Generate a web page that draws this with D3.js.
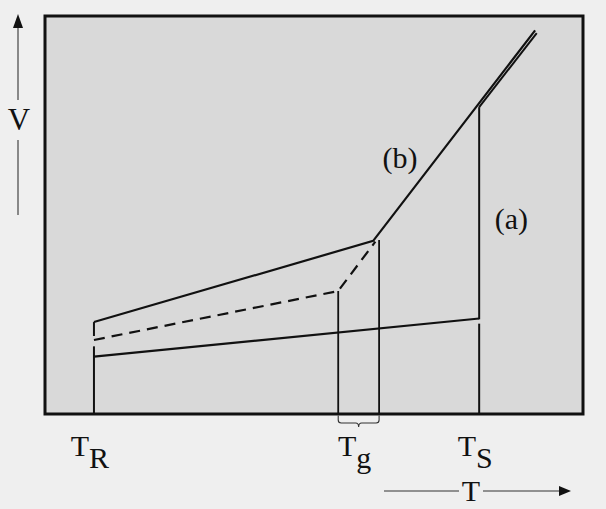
<!DOCTYPE html>
<html><head><meta charset="utf-8">
<script src="https://cdn.jsdelivr.net/npm/d3@7"></script>
<style>html,body{margin:0;padding:0;background:#efefef;} svg{display:block}</style>
</head><body>
<svg id="c" width="606" height="509"></svg>
<script>
// Data (T in arbitrary units 0-100, V in arbitrary units 0-100)
const upperT = [9.1, 61.0, 91.1];      // glass (b) solid line
const upperV = [23.1, 43.5, 96.4];
const dashT  = [9.1, 54.5, 61.4];      // dashed (slower cooling) glass line
const dashV  = [18.6, 30.9, 43.3];
const crystT = [9.1, 80.7];            // crystal line
const crystV = [14.4, 24.0];
const meltT  = [80.7, 91.4];           // liquid line (a)
const meltV  = [77.1, 95.7];
const dropT  = [80.7, 80.7];           // crystallisation drop at TS
const dropV  = [77.1, 23.8];
// vertical marker segments [T, V from, V to]
const vertT   = [9.1, 9.1, 54.5, 62.1, 80.7];
const vertV0  = [0, 19.6, 0, 0, 0];
const vertV1  = [17.0, 23.1, 30.9, 43.7, 22.7];
const tickT    = [9.1, 58.3, 80.7];
const tickMain = ["T", "T", "T"];
const tickSub  = ["R", "g", "S"];
const braceT = [54.5, 62.1];
const curveLabels = ["(b)", "(a)"];
const curveLabelT = [66.0, 86.7];
const curveLabelV = [61.8, 46.6];

const svg = d3.select("#c");
const x = d3.scaleLinear().domain([0, 100]).range([45, 583]);
const y = d3.scaleLinear().domain([0, 100]).range([414, 16]);
const ink = "#111";
const font = "'Liberation Serif', 'DejaVu Serif', serif";

svg.append("rect").attr("x", x(0)).attr("y", y(100)).attr("width", x(100) - x(0)).attr("height", y(0) - y(100)).attr("fill", "#d9d9d9");

const line = d3.line().x(d => x(d[0])).y(d => y(d[1]));
const zip = (a, b) => a.map((v, i) => [v, b[i]]);

function path(d, w, dash) {
  const p = svg.append("path").attr("d", line(d)).attr("fill", "none")
    .attr("stroke", ink).attr("stroke-width", w).attr("stroke-linejoin", "miter");
  if (dash) p.attr("stroke-dasharray", dash);
  return p;
}

// verticals
vertT.forEach((t, i) => path([[t, vertV0[i]], [t, vertV1[i]]], i >= 2 && i <= 3 ? 1.8 : 2));
path(zip(dropT, dropV), 2);

path(zip(crystT, crystV), 2.2);
path(zip(upperT, upperV), 2.2);
path(zip(dashT, dashV), 2.2, "11,7");
path(zip(meltT, meltV), 2);

// frame
svg.append("rect").attr("x", x(0)).attr("y", y(100)).attr("width", x(100) - x(0)).attr("height", y(0) - y(100))
  .attr("fill", "none").attr("stroke", ink).attr("stroke-width", 3);

// brace under Tg
{
  const x1 = x(braceT[0]), x2 = x(braceT[1]), m = (x1 + x2) / 2, y0 = y(0) + 1.5, y1 = y(0) + 9;
  svg.append("path").attr("fill", "none").attr("stroke", "#333").attr("stroke-width", 1.1)
    .attr("d", `M${x1},${y0} L${x1},${y1 - 3} Q${x1},${y1} ${x1 + 3},${y1} L${m - 3},${y1} Q${m},${y1} ${m},${y1 + 4} Q${m},${y1} ${m + 3},${y1} L${x2 - 3},${y1} Q${x2},${y1} ${x2},${y1 - 3} L${x2},${y0}`);
}

// tick labels
tickT.forEach((t, i) => {
  const tx = svg.append("text").attr("x", x(t) - 4).attr("y", 456).attr("text-anchor", "middle")
    .attr("font-family", font).attr("font-size", 30).attr("fill", ink);
  tx.append("tspan").text(tickMain[i]);
  tx.append("tspan").attr("dy", 12).text(tickSub[i]);
});

// curve labels
curveLabels.forEach((s, i) => {
  svg.append("text").attr("x", x(curveLabelT[i])).attr("y", y(curveLabelV[i])).attr("text-anchor", "middle")
    .attr("font-family", font).attr("font-size", 30).attr("fill", ink).text(s);
});

// axis arrows
const thin = "#333";
svg.append("line").attr("x1", 18).attr("x2", 18).attr("y1", 27).attr("y2", 100).attr("stroke", thin).attr("stroke-width", 1.1);
svg.append("line").attr("x1", 18).attr("x2", 18).attr("y1", 140).attr("y2", 215).attr("stroke", thin).attr("stroke-width", 1.1);
svg.append("path").attr("d", "M18,14 L13,28 L23,28 Z").attr("fill", ink);
svg.append("text").attr("x", 19).attr("y", 130).attr("text-anchor", "middle").attr("font-family", font).attr("font-size", 31).attr("fill", ink).text("V");

svg.append("line").attr("x1", 384).attr("x2", 459).attr("y1", 491).attr("y2", 491).attr("stroke", thin).attr("stroke-width", 1.1);
svg.append("line").attr("x1", 483).attr("x2", 560).attr("y1", 491).attr("y2", 491).attr("stroke", thin).attr("stroke-width", 1.1);
svg.append("path").attr("d", "M571,491 L559,486 L559,496 Z").attr("fill", ink);
svg.append("text").attr("x", 471).attr("y", 501).attr("text-anchor", "middle").attr("font-family", font).attr("font-size", 30).attr("fill", ink).text("T");
</script>
</body></html>
